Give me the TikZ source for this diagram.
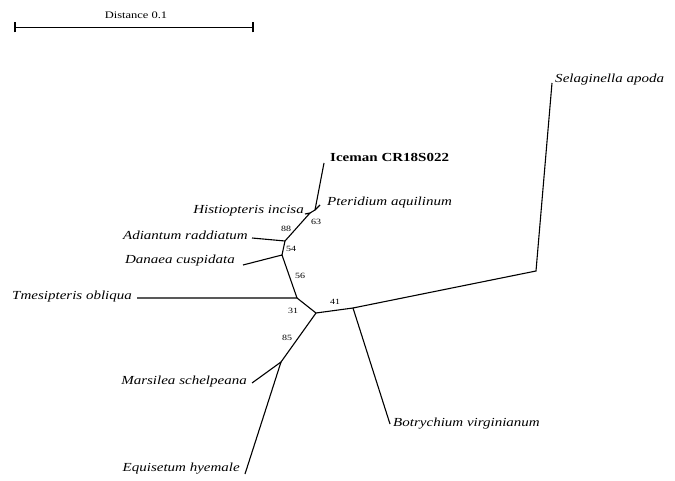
\documentclass[tikz,border=0pt]{standalone}
\usepackage{fontspec}
\setmainfont{Liberation Serif}
\begin{document}
\begin{tikzpicture}[x=1pt,y=-1pt,
  branch/.style={line width=1.1pt},
  taxon/.style={font=\itshape\fontsize{12.3}{14}\selectfont, xscale=1.22, inner sep=0pt},
  query/.style={font=\bfseries\fontsize{12.3}{14}\selectfont, xscale=1.22, inner sep=0pt},
  boot/.style={font=\fontsize{8}{9}\selectfont, xscale=1.25, inner sep=0pt},
  scalelbl/.style={font=\fontsize{10}{12}\selectfont, xscale=1.25, inner sep=0pt}]
\useasboundingbox (0,0) rectangle (675,481);

% scale bar
\coordinate (sbL) at (15,27.5);
\coordinate (sbR) at (253,27.5);
\draw[branch] (sbL) -- (sbR);
\draw[branch] ([yshift=-5pt]sbL) -- ([yshift=5pt]sbL);
\draw[branch] ([yshift=-5pt]sbR) -- ([yshift=5pt]sbR);
\node[scalelbl] (sbtext) at (136,15) {Distance 0.1};

% internal nodes
\coordinate (C) at (316,313);
\coordinate (T) at (297,298);
\coordinate (D) at (282,255);
\coordinate (A) at (285,241);
\coordinate (H) at (310,213);
\coordinate (P) at (315,210);
\coordinate (M) at (281,362);
\coordinate (B) at (353,308);
\coordinate (S) at (536,271);

% leaf tips
\coordinate (tTme) at (137,298);
\coordinate (tDan) at (243,265);
\coordinate (tAdi) at (252,238);
\coordinate (tHis) at (305,214);
\coordinate (tIce) at (324,163);
\coordinate (tPte) at (320,205);
\coordinate (tMar) at (252,383);
\coordinate (tEqu) at (245,474);
\coordinate (tBot) at (390,424);
\coordinate (tSel) at (552,83);

% branches
\draw[branch] (C) -- (T) -- (tTme);
\draw[branch] (T) -- (D) -- (tDan);
\draw[branch] (D) -- (A) -- (tAdi);
\draw[branch] (A) -- (H) -- (tHis);
\draw[branch] (H) -- (P) -- (tIce);
\draw[branch] (P) -- (tPte);
\draw[branch] (C) -- (M) -- (tMar);
\draw[branch] (M) -- (tEqu);
\draw[branch] (C) -- (B) -- (tBot);
\draw[branch] (B) -- (S) -- (tSel);

% taxon names
\node[taxon, anchor=base west] (lSel) at (555,83) {Selaginella apoda};
\node[query, anchor=base west] (lIce) at (330,162) {Iceman CR18S022};
\node[taxon, anchor=base west] (lPte) at (327,206) {Pteridium aquilinum};
\node[taxon, anchor=base east] (lHis) at (304,214) {Histiopteris incisa};
\node[taxon, anchor=base east] (lAdi) at (248,240) {Adiantum raddiatum};
\node[taxon, anchor=base east] (lDan) at (235,264) {Danaea cuspidata};
\node[taxon, anchor=base west] (lTme) at (12,299) {Tmesipteris obliqua};
\node[taxon, anchor=base east] (lMar) at (247,384) {Marsilea schelpeana};
\node[taxon, anchor=base east] (lEqu) at (240,471) {Equisetum hyemale};
\node[taxon, anchor=base west] (lBot) at (393,426) {Botrychium virginianum};

% bootstrap values
\node[boot] (b88) at (286,229) {88};
\node[boot] (b63) at (316,222) {63};
\node[boot] (b54) at (291,249) {54};
\node[boot] (b56) at (300,276) {56};
\node[boot] (b31) at (293,311) {31};
\node[boot] (b41) at (335,302) {41};
\node[boot] (b85) at (287,338) {85};
\end{tikzpicture}
\end{document}
